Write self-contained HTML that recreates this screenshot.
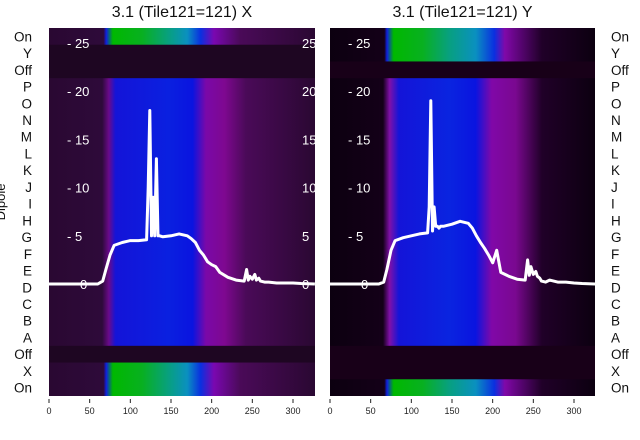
<!DOCTYPE html>
<html><head><meta charset="utf-8"><style>
html,body{margin:0;padding:0;background:#fff;}
svg{display:block;font-family:"Liberation Sans","DejaVu Sans",sans-serif;}
</style></head><body>
<svg id="chart" width="640" height="440" viewBox="0 0 640 440">
<defs>
 <linearGradient id="gBlueL" x1="0" x2="1">
  <stop offset="0" stop-color="#2a0832"/><stop offset="0.2" stop-color="#2e0a3a"/><stop offset="0.225" stop-color="#6a0a8a"/><stop offset="0.25" stop-color="#1414d8"/><stop offset="0.45" stop-color="#0a20e0"/><stop offset="0.54" stop-color="#0a14e0"/><stop offset="0.59" stop-color="#7a08a8"/><stop offset="0.66" stop-color="#7e0890"/><stop offset="0.74" stop-color="#4a0a58"/><stop offset="1" stop-color="#2a0832"/>
 </linearGradient>
 <linearGradient id="gGreenL" x1="0" x2="1">
  <stop offset="0" stop-color="#2a0832"/><stop offset="0.205" stop-color="#2e0a3a"/><stop offset="0.215" stop-color="#1020e0"/><stop offset="0.24" stop-color="#00b800"/><stop offset="0.35" stop-color="#08b020"/><stop offset="0.45" stop-color="#08a080"/><stop offset="0.52" stop-color="#0a90c0"/><stop offset="0.57" stop-color="#0a30e0"/><stop offset="0.62" stop-color="#7a08b0"/><stop offset="0.72" stop-color="#4a0a58"/><stop offset="1" stop-color="#2a0832"/>
 </linearGradient>
 <linearGradient id="gBlueR" x1="0" x2="1">
  <stop offset="0" stop-color="#0c0010"/><stop offset="0.2" stop-color="#140018"/><stop offset="0.225" stop-color="#8010a8"/><stop offset="0.26" stop-color="#1414d8"/><stop offset="0.45" stop-color="#0a24e0"/><stop offset="0.55" stop-color="#0a14e0"/><stop offset="0.61" stop-color="#8008a8"/><stop offset="0.7" stop-color="#7a0890"/><stop offset="0.8" stop-color="#200028"/><stop offset="1" stop-color="#0c0010"/>
 </linearGradient>
 <linearGradient id="gGreenR" x1="0" x2="1">
  <stop offset="0" stop-color="#0c0010"/><stop offset="0.205" stop-color="#140018"/><stop offset="0.215" stop-color="#1020e0"/><stop offset="0.24" stop-color="#00b800"/><stop offset="0.35" stop-color="#08b020"/><stop offset="0.45" stop-color="#08a080"/><stop offset="0.55" stop-color="#0a90c0"/><stop offset="0.62" stop-color="#0a30e0"/><stop offset="0.66" stop-color="#8008a8"/><stop offset="0.8" stop-color="#200028"/><stop offset="1" stop-color="#0c0010"/>
 </linearGradient>
 <clipPath id="clipL"><rect x="49" y="28" width="266" height="368"/></clipPath>
 <clipPath id="clipR"><rect x="330" y="28" width="265" height="368"/></clipPath>
</defs>
<g id="layer"></g>
</svg>
<script>
// ---- data ----
const rowLabels = ["On","Y","Off","P","O","N","M","L","K","J","I","H","G","F","E","D","C","B","A","Off","X","On"];
const xTicks = [0,50,100,150,200,250,300];
const yTicks = [0,5,10,15,20,25];
const lineXs = [0,30,60,66,70,75,80,90,100,110,120,122,124,126,128,130,132,134,136,140,150,160,170,175,180,185,190,195,200,205,210,220,230,240,243,245,247,250,253,255,258,260,265,270,280,290,300,310,327];
const seriesX = [0,0,0,0.3,1.5,3,4,4.3,4.5,4.5,4.6,10,18,5,9,5,13,5,5,4.9,5.0,5.2,5.0,4.7,4.3,3.5,3.0,2.3,2.0,1.8,1.2,0.7,0.4,0.3,1.5,0.4,0.8,0.5,1.0,0.4,0.6,0.3,0.2,0.2,0.1,0.1,0.1,0.05,0];
const seriesY = [0,0,0,0.2,1.5,3.5,4.5,4.8,5.0,5.2,5.3,8,19,5.5,8,6,6,5.8,6,6,6.2,6.5,6.3,5.8,5.0,4.3,3.7,3.0,2.2,3.5,1.2,0.8,0.5,0.4,2.5,0.9,1.8,1.0,1.3,0.8,0.6,0.3,0.2,0.4,0.2,0.2,0.1,0.05,0];
const greenRowsL = [0,20,21];
const darkRowsL = [1,2,19];
const greenRowsR = [0,1,21];
const darkRowsR = [2,19,20];

const NS = "http://www.w3.org/2000/svg";
const layer = document.getElementById('layer');
function mk(tag, attrs, parent){const e=document.createElementNS(NS,tag);for(const k in attrs)e.setAttribute(k,attrs[k]);(parent||layer).appendChild(e);return e;}
const top0 = 28, bot0 = 396, rowH = (bot0-top0)/rowLabels.length;
const panels = [
 {x0:49, w:266, title:"3.1 (Tile121=121) X", series:seriesX, green:greenRowsL, dark:darkRowsL, gB:"gBlueL", gG:"gGreenL", darkCol:"#1e0622", clip:"clipL", name:"x"},
 {x0:330, w:265, title:"3.1 (Tile121=121) Y", series:seriesY, green:greenRowsR, dark:darkRowsR, gB:"gBlueR", gG:"gGreenR", darkCol:"#180018", clip:"clipR", name:"y"}
];
const xs = (p,v)=> p.x0 + v*0.8133;
const ys = v=> 284 - v*9.64;

panels.forEach(p=>{
 const g = mk('g',{});
 
 
 const hm = mk('g',{'clip-path':'url(#'+p.clip+')'},g);
 rowLabels.forEach((lab,i)=>{
  let fill = 'url(#'+p.gB+')';
  if(p.green.includes(i)) fill='url(#'+p.gG+')';
  if(p.dark.includes(i)) fill=p.darkCol;
  const r = mk('rect',{x:p.x0,y:top0+i*rowH,width:p.w,height:rowH+0.5,fill:fill},hm);
  
  
 });
 yTicks.forEach(t=>{
  const tx = mk('text',{x:p.x0+18,y:ys(t)+5,fill:'#fff','font-size':'13'},g);
  tx.textContent = t===0 ? '0' : '- '+t;
  if(t===0) tx.setAttribute('x',p.x0+31);
  
  
  if(p.name==='x'){
   const t2 = mk('text',{x:p.x0+253,y:ys(t)+5,fill:'#fff','font-size':'13','clip-path':'url(#'+p.clip+')'},g);
   t2.textContent = String(t);
   
   
  }
 });
 let d='';
 lineXs.forEach((v,i)=>{ d += (i?'L':'M')+xs(p,v).toFixed(1)+','+ys(p.series[i]).toFixed(1); });
 const ln = mk('path',{d:d,fill:'none',stroke:'#fff','stroke-width':'3','stroke-linejoin':'round','clip-path':'url(#'+p.clip+')'},g);
 
 
 const ti = mk('text',{x:p.x0+p.w/2,y:17,'text-anchor':'middle','font-size':'16',fill:'#111'},g);
 ti.textContent = p.title;
 
 
 xTicks.forEach(t=>{
  mk('line',{x1:xs(p,t),x2:xs(p,t),y1:399,y2:403,stroke:'#222','stroke-width':'1'},g);
  const tx = mk('text',{x:xs(p,t),y:414,'text-anchor':'middle','font-size':'9',fill:'#222'},g);
  tx.textContent = t;
  
  
 });
});
rowLabels.forEach((lab,i)=>{
 const cy = top0 + (i+0.5)*rowH + 5;
 const a = mk('text',{x:32,y:cy,'text-anchor':'end','font-size':'13.5',fill:'#111'});
 a.textContent = lab;
 
 
 const b = mk('text',{x:611,y:cy,'font-size':'13.5',fill:'#111'});
 b.textContent = lab;
 
 
});
const yl = mk('text',{x:0,y:0,transform:'translate(5,202) rotate(-90)','text-anchor':'middle','font-size':'13',fill:'#111'});
yl.textContent='Dipole';


</script>
</body></html>
